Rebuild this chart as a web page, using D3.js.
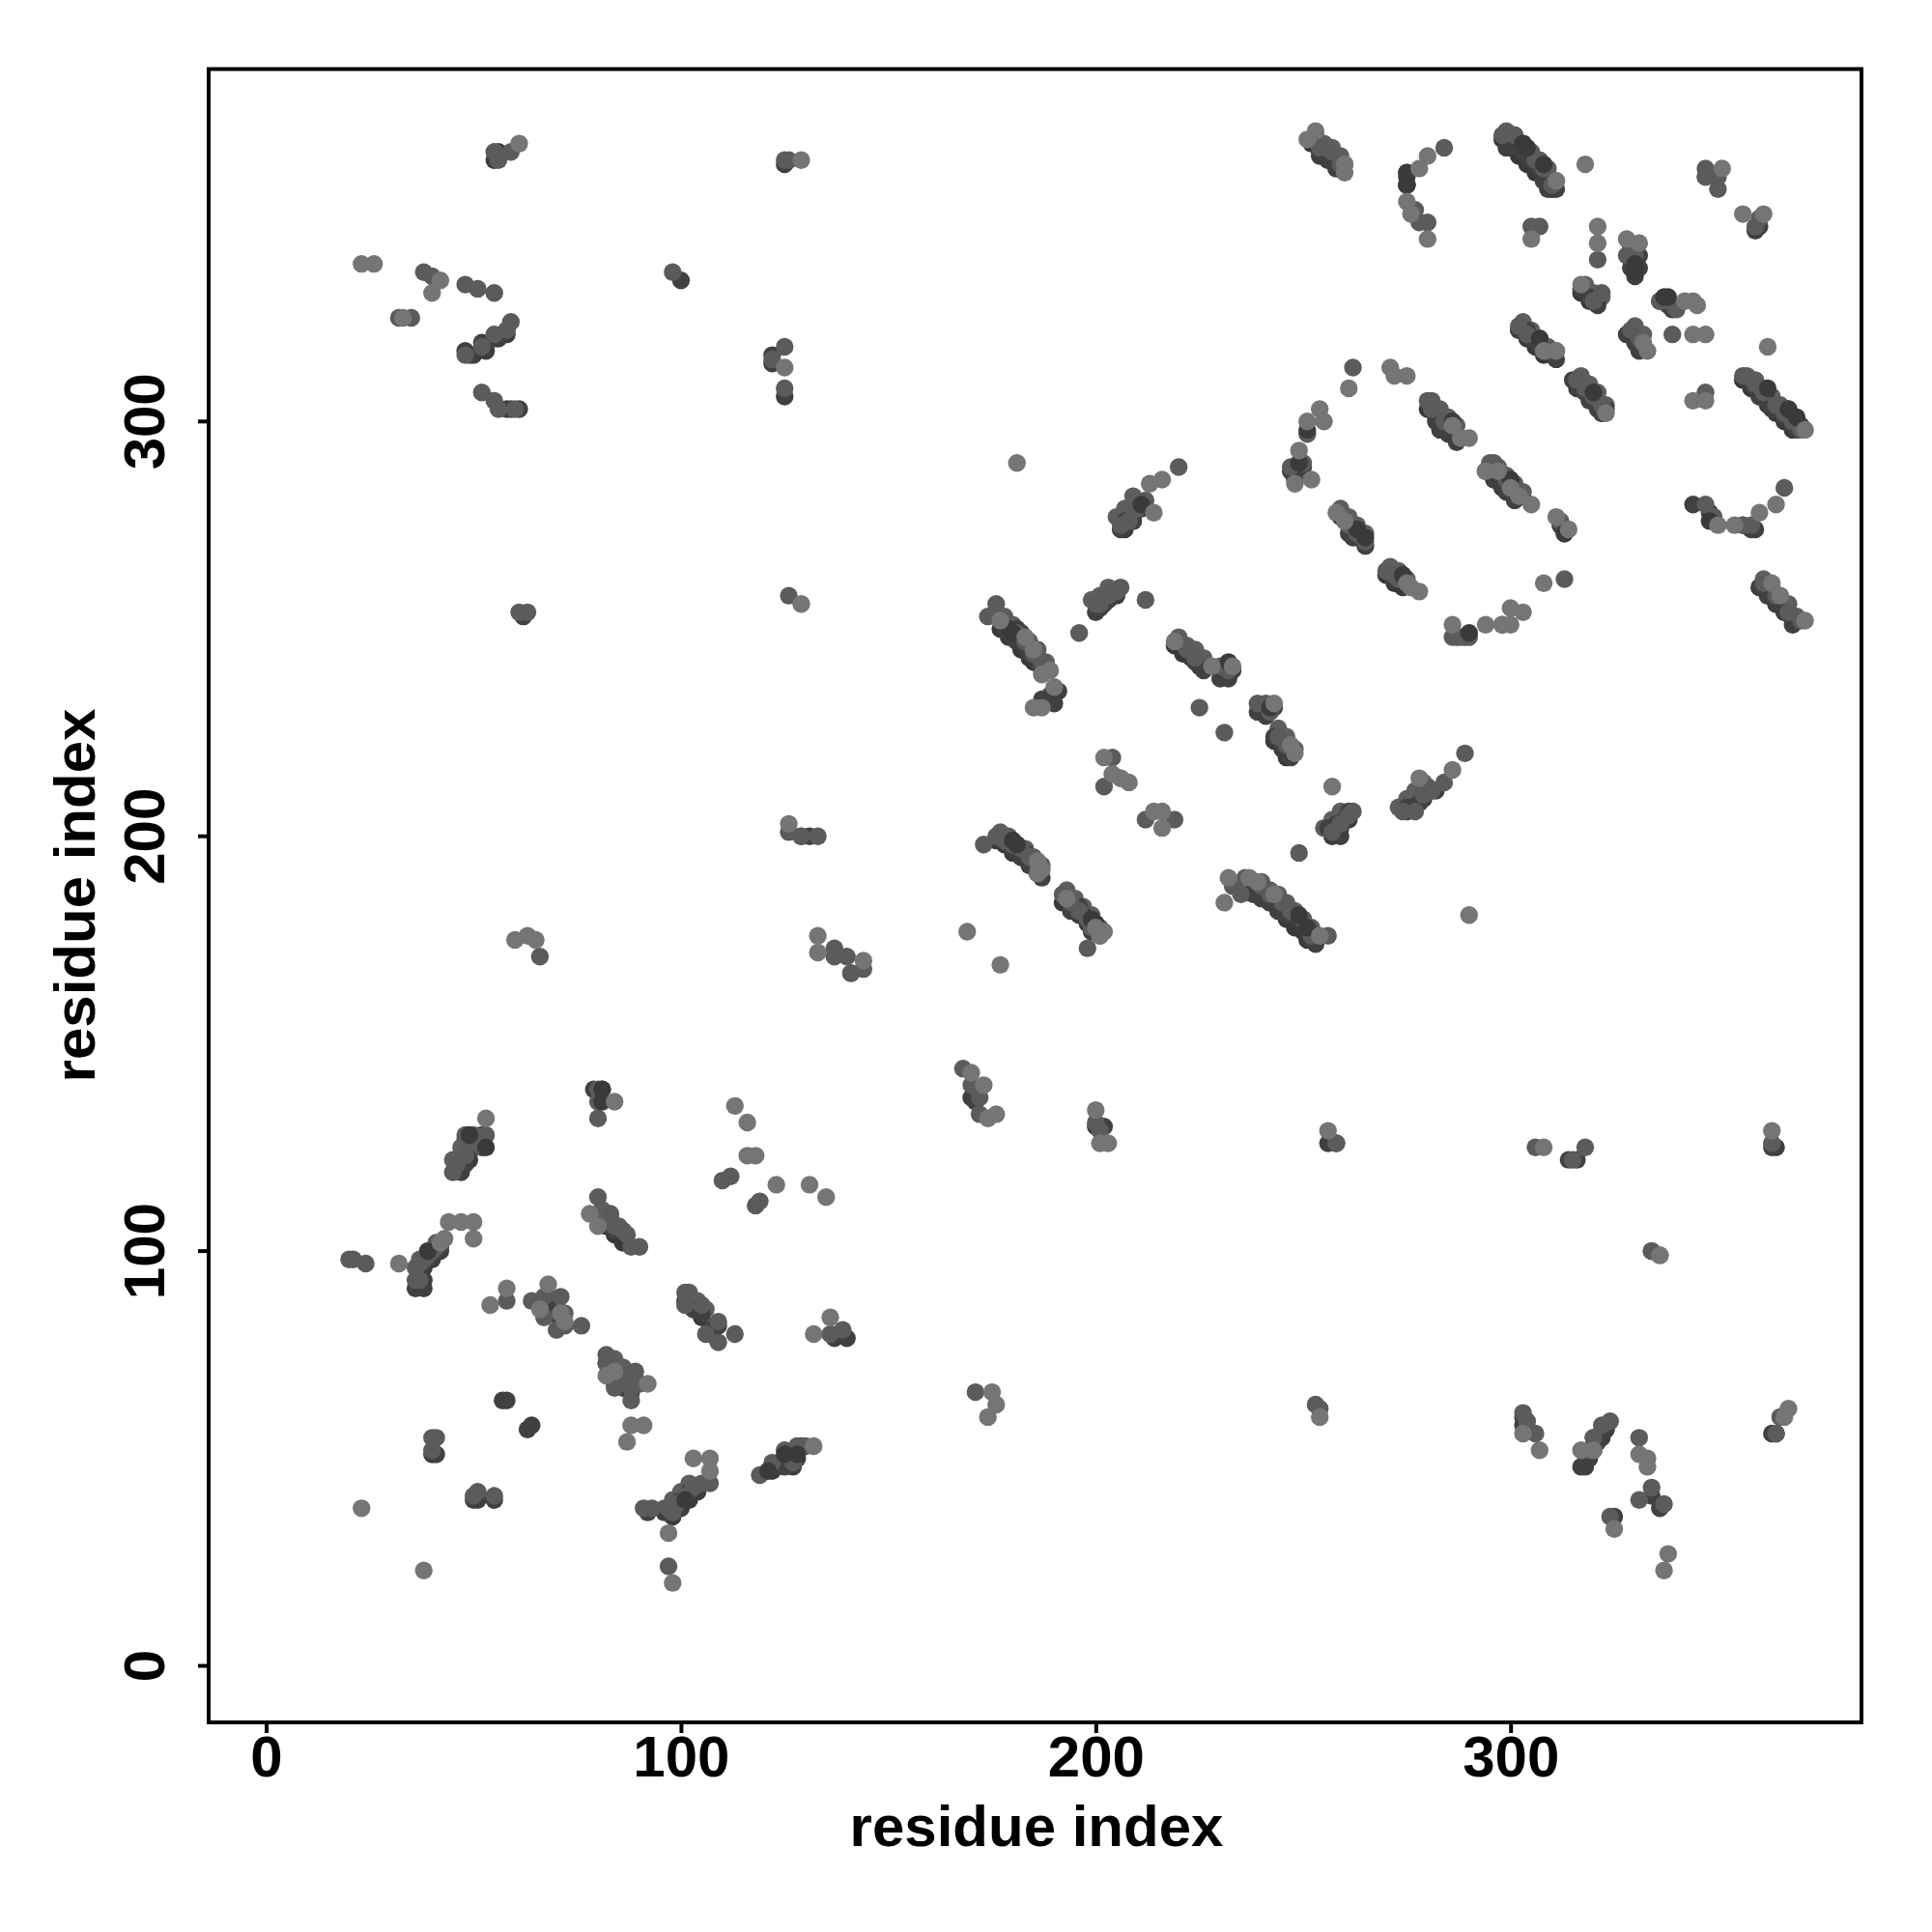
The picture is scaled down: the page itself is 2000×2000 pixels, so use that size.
<!DOCTYPE html>
<html><head><meta charset="utf-8"><script src="https://cdn.jsdelivr.net/npm/d3@7/dist/d3.min.js"></script>
<style>html,body{margin:0;background:#fff}text{font-family:"Liberation Sans",Arial,sans-serif;font-weight:bold;fill:#000}</style></head>
<body><svg id="c" width="2000" height="2000"></svg>
<script>
const xTicks=[0,100,200,300], yTicks=[0,100,200,300];
const xTitle="residue index", yTitle="residue index";
const edgeLower=[
[177,250],[179,248],[181,247],[182,245],[184,243],[185,242],[187,240],
[176,199],[178,198],[180,196],[182,195],[184,193],[186,191],
[192,184],[194,183],[196,181],[198,179],[200,177],
[219,246],[221,244],[223,243],[225,241],
[243,223],[245,221],[246,219],
[238,187],[240,185],[242,184],[244,182],[246,180],[248,178],[250,177],[251,175],
[280,303],[282,301],[284,299],[286,297],
[294,288],[296,286],[298,284],[300,283],
[259,277],[261,275],[263,272],
[270,263],[272,261],[274,260],
[252,367],[254,365],[256,363],[258,361],
[298,368],[300,366],[302,364],[304,362],[306,360],[308,358],[310,356],
[302,322],[304,320],[306,318],[308,316],
[316,309],[318,307],[320,305],[322,302],
[356,310],[358,308],[360,306],[362,304],[364,302],[366,300],[368,298],
[360,260],[362,258],[364,256],[366,254],[368,252],
[329,321],[331,319],[317,331],[319,329],
[67,87],[69,85],[71,83],[80,108],[82,106],[84,104],[86,102],
[101,88],[103,86],[105,84],[107,80],[82,73],[84,71],[86,69],[88,66]
];
const edgeAnti=[
[38,96],[40,98],[42,100],[47,120],[49,122],[50,125],[51,127],
[98,36],[100,38],[102,40],[104,42],[201,255],[203,257],[205,258],
[207,274],[209,276],[211,279],[257,200],[259,202],[261,204],
[275,206],[277,207],[279,209],[281,211],[318,49],[320,52],[322,55],[323,57],
[122,47],[125,49],[128,50],[50,316],[53,317],[56,320],[58,321]
];
const edgeUpper=[
[178,253],[180,251],[182,249],[184,247],[186,245],[188,242],
[177,201],[179,200],[181,198],[183,197],[185,195],[187,193],
[193,187],[195,185],[197,183],[199,181],[201,178],
[220,248],[222,246],[224,245],[226,243],
[244,226],[246,224],[248,221],
[240,189],[242,187],[244,186],[246,184],[248,182],[250,180],[252,178],
[281,305],[283,303],[285,301],[287,299],
[295,290],[297,289],[299,287],[301,285],[303,283],
[259,279],[261,277],[263,275],[265,273],
[271,265],[273,264],[275,262],
[253,369],[255,367],[257,366],[259,364],[260,362],
[299,370],[301,369],[303,367],[305,365],[307,363],[309,361],[311,358],
[303,324],[305,322],[307,320],[309,318],[311,317],
[317,311],[319,309],[321,307],[323,304],
[357,311],[359,310],[361,308],[363,306],[365,304],[367,303],[369,300],
[361,262],[363,260],[365,258],[367,256],[369,253],
[330,323],[332,321],[318,333],[320,331],[322,330],
[68,89],[70,87],[72,85],[81,110],[83,108],[85,106],[87,104],
[102,90],[104,88],[106,86],[108,82],[84,74],[86,72],[88,70],[90,68],
[37,98],[39,100],[41,102],[45,122],[47,125],[48,127],
[96,38],[98,40],[100,42],[102,44],[199,257],[201,258],[203,260],
[205,277],[207,279],[209,282],[255,202],[257,204],[259,206],
[273,207],[275,209],[277,211],[279,213]
];
const darkContacts=[
[36,91],[38,91],[38,93],[39,98],[40,99],[41,100],[42,101],[47,119],[48,121],[49,124],[50,127],[52,125],[52,128],[79,139],[81,139],
[57,64],[58,64],[63,57],[64,58],[40,51],[41,51],[50,40],[51,40],[55,40],[69,85],[68,88],[84,105],[85,70],[84,68],[86,67],[103,86],[105,85],[107,81],[109,82],
[137,79],[139,80],[140,79],[98,37],[99,39],[100,40],[101,41],[102,42],[96,37],[92,37],[122,48],[125,48],[127,48],[128,50],[129,53],
[55,363],[56,365],[125,362],[49,316],[48,317],[52,319],[55,320],[57,321],[58,322],[58,303],[59,303],[61,303],[122,314],[122,316],[125,306],[100,334],[62,253],[129,200],[131,200],[141,167],
[178,250],[179,249],[180,248],[181,247],[181,250],[182,249],[183,246],[184,244],[186,242],[188,240],[189,234],[187,233],[190,232],[191,235],
[179,198],[180,197],[181,196],[182,195],[183,196],[184,193],[186,191],[187,190],[197,181],[198,180],[199,179],[200,178],[196,183],[195,183],[194,182],[199,177],
[200,254],[201,255],[202,256],[203,257],[204,258],[205,259],[206,274],[207,276],[209,276],[210,279],
[224,242],[226,240],[230,238],[231,240],[232,238],[233,240],[239,230],[241,229],[242,230],[243,231],[243,224],[245,222],[246,220],[247,219],
[238,186],[240,185],[242,184],[244,182],[246,181],[248,181],[249,180],[250,179],[251,177],[252,175],[253,174],[256,202],[258,203],[260,204],[261,206],[259,200],
[275,359],[275,357],[254,364],[256,363],[258,361],[299,366],[301,367],[302,366],[303,365],[305,363],[307,361],[308,358],[309,356],[310,356],[311,356],
[261,273],[262,272],[263,274],[264,272],[265,270],[271,263],[272,262],[274,263],[247,288],[248,286],[250,289],[278,208],[279,210],[282,211],[275,207],[276,207],
[282,300],[283,298],[285,297],[287,295],[296,286],[298,285],[299,283],[301,281],[312,275],[313,273],[289,248],[287,248],
[302,322],[304,322],[305,320],[307,318],[309,317],[311,315],[315,310],[316,308],[318,307],[319,305],[321,303],[322,302],[323,303],
[329,337],[330,335],[331,337],[331,340],[336,329],[337,329],[338,328],[339,327],[328,321],[330,319],[331,317],[317,332],[319,330],[321,328],
[347,359],[359,346],[360,347],[344,280],[348,278],[349,276],[356,275],[358,274],[359,274],[358,309],[359,308],[360,306],[362,305],[363,303],[365,303],[366,301],[367,301],[368,299],[369,298],[370,299],
[360,260],[362,258],[364,256],[366,254],[368,251],
[303,60],[303,58],[304,57],[314,122],[316,122],[363,125],[364,125],[317,48],[318,48],[319,50],[321,54],[322,56],[323,57],[320,55],[336,38],[334,41],[363,56],[364,56],[325,36],[334,100],[256,126],[258,126],[202,130],[200,130],[170,137],[171,136]
];
const midContacts=[
[20,98],[21,98],[24,97],[36,96],[37,97],[38,98],[39,99],[40,100],[41,101],[37,93],[36,93],[45,119],[46,121],[48,123],[49,126],[48,128],[50,128],[53,128],[52,125],
[40,55],[41,55],[40,52],[51,42],[50,41],[55,41],[80,139],[80,136],[80,132],[80,113],[83,109],[84,106],[86,105],[88,101],[90,101],[58,88],[64,88],[67,89],[67,84],[71,89],[70,81],[76,82],[72,82],
[101,90],[101,87],[105,87],[109,83],[106,80],[109,78],[113,80],[139,81],[136,80],[82,75],[82,73],[84,67],[86,70],[88,67],[88,64],[89,71],
[91,38],[93,38],[97,38],[97,24],[98,37],[99,39],[101,41],[103,43],[105,44],[107,44],[119,46],[122,49],[125,52],[128,53],[127,49],[130,53],[110,117],[112,118],[118,111],[119,112],
[55,365],[56,363],[59,365],[125,363],[126,363],[38,336],[40,335],[48,333],[51,332],[55,331],[32,325],[35,325],[48,316],[52,318],[55,321],[58,322],[59,324],[52,307],[55,305],[56,303],[60,303],
[98,336],[125,318],[125,308],[122,315],[61,254],[63,254],[126,258],[126,201],[129,200],[133,200],[66,171],[137,173],[137,171],[140,171],[141,167],[144,168],
[173,198],[176,256],[174,253],[178,252],[179,250],[181,249],[183,247],[185,244],[187,242],[178,199],[180,198],[182,197],[184,195],[186,193],[176,200],[192,186],[194,184],[196,182],[198,180],[199,178],[201,176],[198,173],
[196,249],[212,257],[200,256],[201,256],[203,258],[205,259],[206,260],[206,275],[208,276],[210,279],[212,281],[220,289],[204,219],[202,212],[206,214],[212,204],[219,204],[249,196],
[225,231],[231,225],[220,247],[222,245],[224,243],[232,240],[230,241],[239,232],[241,232],[242,230],[244,224],[246,222],[233,188],[236,190],[235,186],[240,188],[242,186],[245,184],[247,182],[250,180],[252,176],[256,176],
[257,201],[259,203],[261,205],[262,206],[274,206],[277,206],[279,210],[281,211],[284,213],[280,212],[289,220],
[262,313],[247,289],[250,290],[251,297],[261,275],[263,273],[265,271],[270,264],[272,263],[273,262],[280,305],[281,303],[284,300],[296,290],[299,286],[301,284],[312,276],[313,262],[286,248],[288,248],[290,248],
[254,366],[257,365],[259,362],[275,360],[275,357],[277,351],[278,348],[280,348],[284,366],[298,369],[301,369],[303,367],[306,363],[308,361],[310,357],[321,339],[305,347],[307,347],
[328,340],[330,338],[330,340],[329,342],[336,329],[338,329],[340,327],[320,329],[322,331],[329,322],[331,320],[302,323],[304,321],[307,320],[309,317],[316,310],[318,308],[320,306],[322,304],[339,321],
[347,361],[347,359],[350,356],[350,359],[359,347],[360,349],[347,307],[366,284],[347,280],[349,277],[356,275],[358,275],[356,311],[359,309],[361,307],[364,304],[366,302],[368,300],[370,298],[361,261],[364,258],[367,254],[370,252],
[258,126],[306,125],[315,122],[318,125],[363,126],[334,100],[253,63],[254,62],[171,66],[303,61],[304,59],[306,56],[364,56],[365,60],[319,52],[320,55],[322,58],[324,59],[331,55],[331,40],[334,43],[337,39],[324,36],[201,129],[200,131],[168,144],[170,140],[172,137],[172,133],[336,99]
];
const topDarkContacts=[
[179,250],[180,249],[180,199],[181,198],[199,180],[200,179],[249,181],[251,178],[232,242],[242,231],[263,274],[265,272],[274,263],[290,249],[298,251],[249,290],[251,298],[211,280],[313,273],[286,300],[300,286],
[303,367],[304,366],[308,362],[337,330],[338,330],[330,338],[330,336],[307,320],[320,307],[362,308],[367,303],[369,301],[275,360],[275,357],
[81,139],[81,136],[49,128],[53,125],[39,100],[101,40],[121,47],[125,51],[128,51],[348,276]
];
const lightContacts=[
[23,38],[38,23],[53,132],[32,97],[42,102],[43,103],[44,107],[47,107],[50,107],[50,103],[54,87],[58,91],[84,136],[78,109],[80,106],[87,54],[88,58],[91,58],
[68,92],[66,86],[71,85],[72,83],[82,70],[84,71],[92,68],[103,50],[107,50],[107,47],[97,32],[98,20],[113,135],[116,131],[116,123],[118,123],[123,116],[131,116],[135,113],[132,80],[136,84],
[61,367],[129,363],[23,338],[26,338],[40,331],[42,334],[33,325],[129,256],[126,203],[60,175],[63,176],[65,175],[133,176],[133,172],[144,170],[132,53],[125,313],
[169,177],[177,169],[181,290],[187,239],[190,236],[185,231],[187,231],[189,240],[177,252],[185,245],[183,248],[186,191],[187,192],[186,194],[201,176],[200,178],[202,177],[193,185],
[202,219],[204,215],[206,214],[208,213],[214,206],[216,206],[216,202],[214,278],[213,285],[216,286],[219,247],[228,241],[233,241],[243,232],[248,220],[247,222],
[231,184],[232,190],[237,190],[239,189],[243,186],[254,176],[257,212],[278,214],[286,216],[290,181],[278,259],[271,313],[275,311],[272,311],[261,308],[251,300],[249,293],[254,303],[255,300],[248,285],[252,286],[258,278],[260,276],
[275,261],[276,260],[288,296],[290,296],[286,299],[294,288],[297,288],[300,284],[302,282],[305,280],[311,277],[314,274],[308,261],[286,251],[294,251],[298,251],[300,251],[300,255],[303,254],
[253,370],[251,368],[260,362],[260,360],[280,344],[280,364],[278,361],[276,350],[275,353],[311,358],[318,362],[305,344],[321,347],[321,343],[328,344],[331,343],[317,333],[344,329],[345,328],[342,329],
[333,317],[332,319],[308,317],[311,317],[323,302],[344,321],[347,321],[362,318],[344,305],[347,305],[351,361],[356,350],[361,350],[364,280],[360,278],[354,275],[350,275],[371,298],[371,252],[363,261],[365,258],
[256,129],[308,125],[363,129],[336,99],[175,66],[176,63],[174,60],[254,60],[307,52],[303,56],[367,62],[366,60],[320,52],[333,50],[333,48],[331,51],[338,27],[337,23],[325,33],[317,52],[176,133],[173,140],[170,143],[200,134],[201,126],[203,126],[174,132]
];
const L=216,R=1927,T=71.5,B=1783;
const svg=d3.select("#c");
const x=d3.scaleLinear().domain([-13.86,384.6]).range([L,R]);
const y=d3.scaleLinear().domain([-13.62,384.96]).range([B,T]);
const layers=[[edgeLower,"#383838"],[edgeAnti,"#3c3c3c"],[edgeUpper,"#5e5e5e"],[darkContacts,"#404040"],[midContacts,"#5b5b5b"],[topDarkContacts,"#3a3a3a"],[lightContacts,"#757575"]];
layers.forEach(([pts,col])=>{
  svg.append("g").selectAll("circle").data(pts).join("circle")
    .attr("cx",d=>x(d[0])).attr("cy",d=>y(d[1])).attr("r",9.2).attr("fill",col);
});
svg.append("rect").attr("x",L).attr("y",T).attr("width",R-L).attr("height",B-T).attr("fill","none").attr("stroke","#000").attr("stroke-width",4);
const gx=svg.append("g").attr("transform",`translate(0,${B})`).call(d3.axisBottom(x).tickValues(xTicks).tickSize(11).tickPadding(0).tickFormat(d3.format("d")));
gx.select(".domain").remove();
gx.selectAll("line").attr("stroke","#000").attr("stroke-width",4);
gx.selectAll("text").attr("font-size",60).attr("y",56).attr("dy",0).attr("fill","#000");
const gy=svg.append("g").call(d3.axisLeft(y).tickValues(yTicks).tickSize(11).tickFormat(d3.format("d")));
gy.select(".domain").remove();
gy.selectAll(".tick").attr("transform",null);
gy.selectAll(".tick line").attr("transform",`translate(${L},0)`).attr("y1",d=>y(d)).attr("y2",d=>y(d)).attr("stroke","#000").attr("stroke-width",4);
gy.selectAll("text").attr("font-size",60).attr("x",0).attr("y",0).attr("dy",0).attr("text-anchor","middle")
  .attr("transform",d=>`translate(170,${y(d)}) rotate(-90)`);
svg.append("text").attr("x",1073).attr("y",1911).attr("text-anchor","middle").attr("font-size",60).text(xTitle);
svg.append("text").attr("transform","translate(98,927) rotate(-90)").attr("text-anchor","middle").attr("font-size",60).text(yTitle);
</script></body></html>
